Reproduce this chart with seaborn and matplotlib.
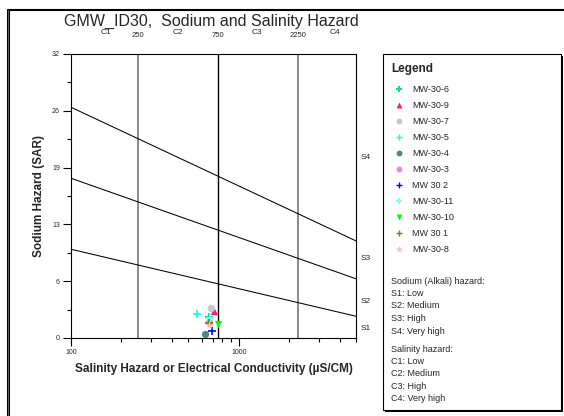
import numpy as np
import pandas as pd
import matplotlib.pyplot as plt
import matplotlib.ticker as mticker
import matplotlib.transforms as mtransforms
import seaborn as sns
from matplotlib.patches import Rectangle

# ---------------- data ----------------
wells = ['MW-30-6', 'MW-30-9', 'MW-30-7', 'MW-30-5', 'MW-30-4', 'MW-30-3',
         'MW 30 2', 'MW-30-11', 'MW-30-10', 'MW 30 1', 'MW-30-8']
ec = [668, 708, 681, 562, 632, 662, 693, 672, 756, 662, 665]
sar = [2.4, 3.0, 3.35, 2.65, 0.5, 1.85, 0.75, 2.3, 1.55, 1.65, 1.45]

# hazard class boundaries (SAR at EC = 100 and EC = 5000)
ec_ends = [100, 5000]
s1_s2 = [10.0, 2.45]
s2_s3 = [18.0, 6.67]
s3_s4 = [26.0, 10.94]
c_bounds = [250, 750, 2250]

y_ticks = [0, 6.4, 12.8, 19.2, 25.6, 32]
y_tick_labels = ['0', '6', '13', '19', '26', '32']

c_labels = ['C1', 'C2', 'C3', 'C4']
c_label_pos = [162, 435, 1285, 3750]
s_labels = ['S1', 'S2', 'S3', 'S4']
s_label_pos = [1.1, 4.1, 9.0, 20.3]

sodium_text = ['Sodium (Alkali) hazard:', 'S1: Low', 'S2: Medium', 'S3: High', 'S4: Very high']
salinity_text = ['Salinity hazard:', 'C1: Low', 'C2: Medium', 'C3: High', 'C4: Very high']

# styles
colors = ['#00e884', '#ff1493', '#c8c8c8', '#00ffff', '#4a8a8a', '#ee82ee',
          '#0000ff', '#80ffff', '#00ff00', '#808000', '#ffb6c1']
markers = ['P', '^', 'o', '+', 'o', 'o', '+', 'P', 'v', '+', '*']

df = pd.DataFrame({'well': wells, 'ec': ec, 'sar': sar})

# ---------------- figure ----------------
sns.set_style('white')
plt.rcParams['font.family'] = ['Liberation Sans', 'DejaVu Sans']

W, H = 564, 416
fig = plt.figure(figsize=(W / 100, H / 100), dpi=100)
ax = fig.add_axes([71 / W, 78 / H, 285 / W, 284 / H])

# hazard lines
for yy in (s1_s2, s2_s3, s3_s4):
    sns.lineplot(x=ec_ends, y=yy, color='black', lw=0.75, ax=ax)
for c, col in zip(c_bounds, ['#808080', 'black', '#808080']):
    ax.axvline(c, color=col, lw=1.3 if col != 'black' else 1.0, zorder=1)


def marker_size(m, big):
    if m == '+':
        return 34 if big else 24
    if m == '*':
        return 40 if big else 30
    return 28 if big else 18


# points
for i, row in df.iterrows():
    m = markers[i]
    sns.scatterplot(x=[row['ec']], y=[row['sar']], marker=m, color=colors[i],
                    s=marker_size(m, True), linewidth=1.2 if m == '+' else 0,
                    ax=ax, zorder=3)

ax.set_xscale('log')
ax.set_xlim(100, 5000)
ax.set_ylim(0, 32)
ax.xaxis.set_major_locator(mticker.FixedLocator([100, 1000]))
ax.xaxis.set_major_formatter(mticker.FixedFormatter(['100', '1000']))
ax.xaxis.set_minor_locator(mticker.LogLocator(base=10, subs=np.arange(2, 10)))
ax.xaxis.set_minor_formatter(mticker.NullFormatter())
ax.set_yticks(y_ticks)
ax.set_yticklabels(y_tick_labels)
ax.yaxis.set_minor_locator(mticker.MultipleLocator(3.2))

ax.tick_params(which='major', direction='out', length=6, width=0.8, labelsize=5, pad=2,
               left=True, bottom=True, color='black')
ax.tick_params(which='minor', direction='out', length=3, width=0.8, left=True, bottom=True,
               color='black')
for sp in ax.spines.values():
    sp.set_color('black')
    sp.set_linewidth(0.8)

ax.set_xlabel('Salinity Hazard or Electrical Conductivity (µS/CM)', fontsize=8.5,
              fontweight='bold', labelpad=5)
ax.set_ylabel('Sodium Hazard (SAR)', fontsize=8.5, fontweight='bold', labelpad=5)

# class labels above and to the right
trans_top = mtransforms.blended_transform_factory(ax.transData, ax.transAxes)
for lab, pos in zip(c_labels, c_label_pos):
    ax.text(pos, 1.075, lab, transform=trans_top, ha='center', va='center', fontsize=6)
for c in c_bounds:
    ax.text(c, 1.066, str(c), transform=trans_top, ha='center', va='center', fontsize=5.5)
trans_right = mtransforms.blended_transform_factory(ax.transAxes, ax.transData)
for lab, pos in zip(s_labels, s_label_pos):
    ax.text(1.035, pos, lab, transform=trans_right, ha='center', va='center', fontsize=6)

# ---------------- overlay: title, frame, legend ----------------
ov = fig.add_axes([0, 0, 1, 1], facecolor='none')
ov.set_xlim(0, W)
ov.set_ylim(H, 0)
ov.axis('off')

ov.text(211, 21, 'GMW_ID30,  Sodium and Salinity Hazard', ha='center', va='center', fontsize=11.5)

ov.plot([8, W], [10, 10], color='black', lw=1.5)
ov.plot([8, 8], [10, H], color='black', lw=2.2)
ov.plot([8, 8], [10, H], color='#888888', lw=0.5)

ov.add_patch(Rectangle((385, 56), 178, 356, facecolor='black', edgecolor='none'))
ov.add_patch(Rectangle((383, 54), 178, 356, facecolor='white', edgecolor='black', lw=0.8))
ov.text(391, 69, 'Legend', fontsize=8.5, fontweight='bold', ha='left', va='center')

for i, name in enumerate(wells):
    y = 89 + i * 16.0
    m = markers[i]
    ov.scatter([399], [y], marker=m, color=colors[i], s=marker_size(m, False),
               linewidths=1.0 if m == '+' else 0)
    ov.text(412, y, name, fontsize=6.5, ha='left', va='center')

for i, t in enumerate(sodium_text):
    ov.text(391, 281 + i * 12.5, t, fontsize=6.5, ha='left', va='center')
for i, t in enumerate(salinity_text):
    ov.text(391, 349 + i * 12.4, t, fontsize=6.5, ha='left', va='center')

fig.savefig('out.png', dpi=100)
